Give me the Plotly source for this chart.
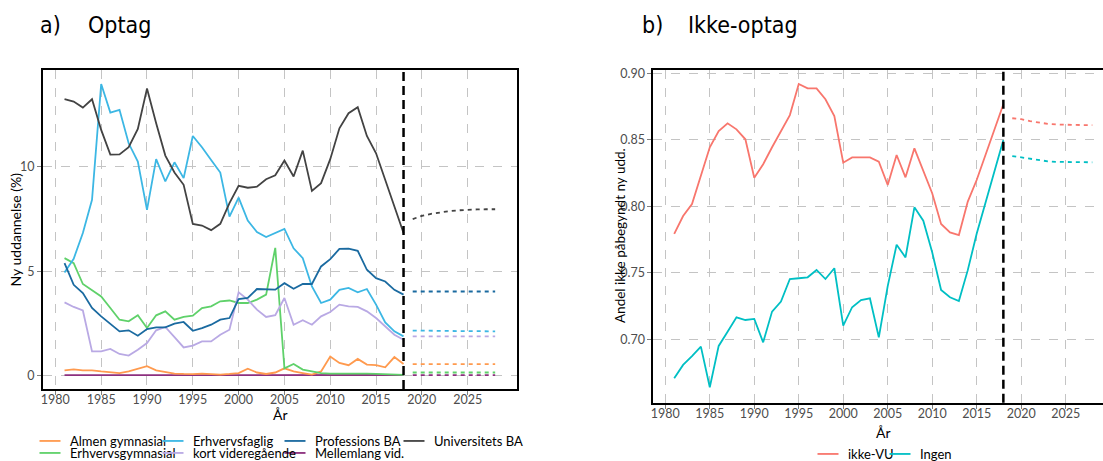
import plotly.graph_objects as go

# ---------------- data: panel a) Optag ----------------
years = list(range(1981, 2019))
proj_years = [2019, 2020, 2021, 2022, 2023, 2024, 2025, 2026, 2027, 2028]

almen_gym = [0.25, 0.30, 0.25, 0.25, 0.20, 0.15, 0.12, 0.20, 0.32, 0.45,
             0.25, 0.18, 0.10, 0.08, 0.07, 0.10, 0.08, 0.05, 0.08, 0.12,
             0.33, 0.15, 0.08, 0.15, 0.35, 0.20, 0.12, 0.05, 0.20, 0.92,
             0.61, 0.50, 0.80, 0.53, 0.50, 0.40, 0.89, 0.56]
erhv_gym = [5.63, 5.39, 4.39, 4.08, 3.79, 3.24, 2.68, 2.60, 2.89, 2.28,
            2.89, 3.08, 2.68, 2.81, 2.87, 3.24, 3.32, 3.56, 3.60, 3.48,
            3.48, 3.64, 3.88, 6.12, 0.35, 0.56, 0.29, 0.20, 0.12, 0.10,
            0.10, 0.10, 0.12, 0.10, 0.08, 0.06, 0.05, 0.04]
erhvervsfaglig = [4.94, 5.60, 6.83, 8.42, 13.97, 12.60, 12.73, 11.13, 10.25, 7.94,
                  10.37, 9.30, 10.22, 9.46, 11.48, 10.94, 10.33, 9.73, 7.62, 8.53,
                  7.43, 6.88, 6.64, 6.85, 7.03, 6.10, 5.63, 4.27, 3.48, 3.64,
                  4.11, 4.20, 3.99, 4.15, 3.40, 2.55, 2.12, 1.88]
kort_vid = [3.51, 3.29, 3.12, 1.16, 1.16, 1.28, 1.04, 0.96, 1.24, 1.56,
            2.17, 2.33, 1.85, 1.35, 1.44, 1.64, 1.64, 1.96, 2.20, 3.99,
            3.64, 3.16, 2.81, 2.90, 3.72, 2.44, 2.65, 2.44, 2.84, 3.05,
            3.40, 3.32, 3.29, 3.08, 2.76, 2.36, 1.96, 1.72]
professions_ba = [5.39, 4.35, 3.96, 3.24, 2.84, 2.49, 2.12, 2.17, 1.91, 2.23,
                  2.31, 2.31, 2.49, 2.57, 2.15, 2.28, 2.44, 2.68, 2.76, 3.67,
                  3.72, 4.15, 4.12, 4.12, 4.43, 4.16, 4.39, 4.39, 5.23, 5.58,
                  6.07, 6.08, 5.98, 5.07, 4.67, 4.51, 4.11, 3.88]
mellemlang = [0.02, 0.02, 0.02, 0.02, 0.02, 0.02, 0.02, 0.02, 0.02, 0.02,
              0.02, 0.02, 0.02, 0.02, 0.02, 0.02, 0.02, 0.02, 0.02, 0.03,
              0.04, 0.04, 0.04, 0.04, 0.04, 0.04, 0.04, 0.04, 0.03, 0.03,
              0.03, 0.03, 0.03, 0.03, 0.03, 0.03, 0.03, 0.03]
universitets_ba = [13.24, 13.13, 12.84, 13.24, 11.77, 10.59, 10.60, 10.94, 11.82, 13.75,
                   12.09, 10.54, 9.73, 9.14, 7.27, 7.19, 6.97, 7.27, 8.26, 9.09,
                   9.00, 9.05, 9.41, 9.60, 10.30, 9.54, 10.78, 8.85, 9.22, 10.37,
                   11.85, 12.57, 12.86, 11.48, 10.65, 9.38, 8.10, 6.83]

proj_almen_gym = [0.55, 0.55, 0.55, 0.55, 0.55, 0.55, 0.55, 0.55, 0.55, 0.55]
proj_erhv_gym = [0.15, 0.15, 0.15, 0.15, 0.15, 0.15, 0.15, 0.15, 0.15, 0.15]
proj_erhvervsfaglig = [2.16, 2.15, 2.15, 2.14, 2.14, 2.13, 2.13, 2.13, 2.12, 2.12]
proj_kort_vid = [1.88, 1.88, 1.88, 1.88, 1.88, 1.88, 1.88, 1.88, 1.88, 1.88]
proj_professions_ba = [4.03, 4.03, 4.03, 4.03, 4.03, 4.03, 4.03, 4.03, 4.03, 4.03]
proj_mellemlang = [0.02, 0.02, 0.02, 0.02, 0.02, 0.02, 0.02, 0.02, 0.02, 0.02]
proj_universitets_ba = [7.50, 7.65, 7.75, 7.83, 7.88, 7.92, 7.95, 7.96, 7.97, 7.97]

# ---------------- data: panel b) Ikke-optag ----------------
ikke_vu = [0.7792, 0.7927, 0.8017, 0.8235, 0.8444, 0.8566, 0.8624, 0.8579, 0.8504, 0.8215,
           0.8316, 0.8444, 0.8561, 0.8686, 0.8920, 0.8887, 0.8887, 0.8805, 0.8679, 0.8328,
           0.8368, 0.8368, 0.8368, 0.8335, 0.8160, 0.8386, 0.8218, 0.8436, 0.8273, 0.8098,
           0.7867, 0.7804, 0.7784, 0.8035, 0.8198, 0.8386, 0.8574, 0.8767]
ingen = [0.6707, 0.6807, 0.6874, 0.6945, 0.6639, 0.6950, 0.7057, 0.7165, 0.7145, 0.7153,
         0.6977, 0.7208, 0.7283, 0.7453, 0.7459, 0.7466, 0.7521, 0.7453, 0.7534, 0.7102,
         0.7241, 0.7295, 0.7308, 0.7015, 0.7400, 0.7711, 0.7616, 0.7992, 0.7892, 0.7654,
         0.7370, 0.7316, 0.7288, 0.7520, 0.7794, 0.8030, 0.8273, 0.8498]
proj_ikke_vu = [0.8662, 0.8655, 0.8640, 0.8628, 0.8620, 0.8615, 0.8612, 0.8611, 0.8611, 0.8611]
proj_ingen = [0.8378, 0.8368, 0.8355, 0.8345, 0.8338, 0.8334, 0.8332, 0.8331, 0.8331, 0.8331]

cutoff_year = 2018
year_ticks = [1980, 1985, 1990, 1995, 2000, 2005, 2010, 2015, 2020, 2025]

# ---------------- styling ----------------
FONT = "Lato"
TITLE_FONT = "DejaVu Sans Condensed"
TICK_COL = "#4d4d4d"
GRID_COL = "#c4c4c4"
W, H = 1103, 461

def px_x(p):
    return p / W

def px_y(p):
    return 1 - p / H

# (name, values, projection, colour, legend id, legend text x px, legend row y px)
left_series = [
    ("Almen gymnasial", almen_gym, proj_almen_gym, "#ff9a4e", "legend", 70, 441),
    ("Erhvervsfaglig", erhvervsfaglig, proj_erhvervsfaglig, "#3cb7e4", "legend2", 193, 441),
    ("Professions BA", professions_ba, proj_professions_ba, "#1a6aa0", "legend3", 315, 441),
    ("Universitets BA", universitets_ba, proj_universitets_ba, "#434343", "legend4", 434, 441),
    ("Erhvervsgymnasial", erhv_gym, proj_erhv_gym, "#5fd16a", "legend5", 70, 453),
    ("kort videregående", kort_vid, proj_kort_vid, "#b9a9e4", "legend6", 193, 453),
    ("Mellemlang vid.", mellemlang, proj_mellemlang, "#8c2f7e", "legend7", 315, 453),
]
right_series = [
    ("ikke-VU", ikke_vu, proj_ikke_vu, "#f8766d", "legend8", 848, 454),
    ("Ingen", ingen, proj_ingen, "#00bfc4", "legend9", 920, 454),
]

fig = go.Figure()


def add_legend_key(nm, col, leg, xa, ya):
    # legend-only entry with a short line key (ggplot style)
    fig.add_trace(go.Scatter(x=[None], y=[None], mode="markers", name=nm, legend=leg,
                             marker=dict(symbol="line-ew-open", size=15, color=col,
                                         line=dict(color=col, width=1.8)),
                             xaxis=xa, yaxis=ya, hoverinfo="skip"))


draw_order = ["Mellemlang vid.", "Almen gymnasial", "Erhvervsgymnasial", "kort videregående",
              "Erhvervsfaglig", "Professions BA", "Universitets BA"]
for name in draw_order:
    nm, vals, proj, col, leg, _, _ = [t for t in left_series if t[0] == name][0]
    fig.add_trace(go.Scatter(x=years, y=vals, mode="lines", name=nm, showlegend=False,
                             line=dict(color=col, width=1.8), xaxis="x", yaxis="y"))
    fig.add_trace(go.Scatter(x=proj_years, y=proj, mode="lines", showlegend=False,
                             line=dict(color=col, width=1.8, dash="4px,4px"),
                             xaxis="x", yaxis="y"))
    add_legend_key(nm, col, leg, "x", "y")

for nm, vals, proj, col, leg, _, _ in right_series:
    fig.add_trace(go.Scatter(x=years, y=vals, mode="lines", name=nm, showlegend=False,
                             line=dict(color=col, width=1.8), xaxis="x2", yaxis="y2"))
    fig.add_trace(go.Scatter(x=proj_years, y=proj, mode="lines", showlegend=False,
                             line=dict(color=col, width=1.8, dash="4px,4px"),
                             xaxis="x2", yaxis="y2"))
    add_legend_key(nm, col, leg, "x2", "y2")

axis_common = dict(
    showgrid=True, gridcolor=GRID_COL, gridwidth=1, griddash="dash",
    zeroline=False, showline=True, linecolor="black", linewidth=1.8,
    ticks="outside", ticklen=4, tickcolor="#7f7f7f", tickwidth=1,
    tickfont=dict(family=FONT, size=12.5, color=TICK_COL),
)

legend_layouts = {}
for nm, _, _, _, leg, tx, ty in left_series + right_series:
    legend_layouts[leg] = dict(
        orientation="h", x=px_x(tx - 40), y=px_y(ty), xanchor="left", yanchor="middle",
        bgcolor="rgba(0,0,0,0)", font=dict(family=FONT, size=13, color="black"),
        itemwidth=30,
    )

fig.update_layout(
    width=W, height=H,
    margin=dict(l=0, r=0, t=0, b=0, autoexpand=False),
    paper_bgcolor="white", plot_bgcolor="white",
    font=dict(family=FONT, size=12, color="black"),
    xaxis=dict(axis_common, domain=[px_x(43), px_x(516.7)], range=[1978.65, 2030.35],
               tickmode="array", tickvals=year_ticks, mirror=True, anchor="y",
               ticklabelstandoff=-6),
    yaxis=dict(axis_common, domain=[px_y(389), px_y(70)], range=[-0.64, 14.64],
               tickmode="array", tickvals=[0, 5, 10], mirror=True, anchor="x"),
    xaxis2=dict(axis_common, domain=[px_x(653.3), 1.0], range=[1978.65, 2029.2],
                tickmode="array", tickvals=year_ticks, mirror=True, anchor="y2",
                ticklabelstandoff=-6),
    yaxis2=dict(axis_common, domain=[px_y(402.7), px_y(70)], range=[0.6523, 0.9025],
                tickmode="array", tickvals=[0.70, 0.75, 0.80, 0.85, 0.90],
                ticktext=["0.70", "0.75", "0.80", "0.85", "0.90"], mirror=False, anchor="x2"),
    shapes=[
        dict(type="line", xref="x", yref="paper", x0=cutoff_year, x1=cutoff_year,
             y0=px_y(389), y1=px_y(70), line=dict(color="black", width=2.5, dash="9px,5px")),
        dict(type="line", xref="x2", yref="paper", x0=cutoff_year, x1=cutoff_year,
             y0=px_y(402.7), y1=px_y(70), line=dict(color="black", width=2.5, dash="9px,5px")),
    ],
    annotations=[
        dict(text="a)", x=px_x(38), y=px_y(25), xref="paper", yref="paper", xanchor="left",
             yanchor="middle", showarrow=False, font=dict(family=TITLE_FONT, size=23)),
        dict(text="Optag", x=px_x(86), y=px_y(25), xref="paper", yref="paper", xanchor="left",
             yanchor="middle", showarrow=False, font=dict(family=TITLE_FONT, size=23)),
        dict(text="b)", x=px_x(640), y=px_y(25), xref="paper", yref="paper", xanchor="left",
             yanchor="middle", showarrow=False, font=dict(family=TITLE_FONT, size=23)),
        dict(text="Ikke-optag", x=px_x(686), y=px_y(25), xref="paper", yref="paper", xanchor="left",
             yanchor="middle", showarrow=False, font=dict(family=TITLE_FONT, size=23)),
        dict(text="Ny uddannelse (%)", x=px_x(15), y=px_y(229.5), xref="paper", yref="paper",
             textangle=-90, showarrow=False, xanchor="center", yanchor="middle",
             font=dict(family=FONT, size=14, color="black")),
        dict(text="År", x=px_x(280), y=px_y(414), xref="paper", yref="paper",
             showarrow=False, xanchor="center", yanchor="middle",
             font=dict(family=FONT, size=14, color="black")),
        dict(text="Andel ikke påbegyndt ny udd.", x=px_x(620), y=px_y(236), xref="paper", yref="paper",
             textangle=-90, showarrow=False, xanchor="center", yanchor="middle",
             font=dict(family=FONT, size=13.5, color="black")),
        dict(text="År", x=px_x(883), y=px_y(432), xref="paper", yref="paper",
             showarrow=False, xanchor="center", yanchor="middle",
             font=dict(family=FONT, size=14, color="black")),
    ],
    **legend_layouts,
)

fig.write_html(
    "out.html",
    config={"displayModeBar": False},
    post_script="document.body.style.margin='0';document.body.style.padding='0';"
                "document.body.style.overflow='hidden';",
)
